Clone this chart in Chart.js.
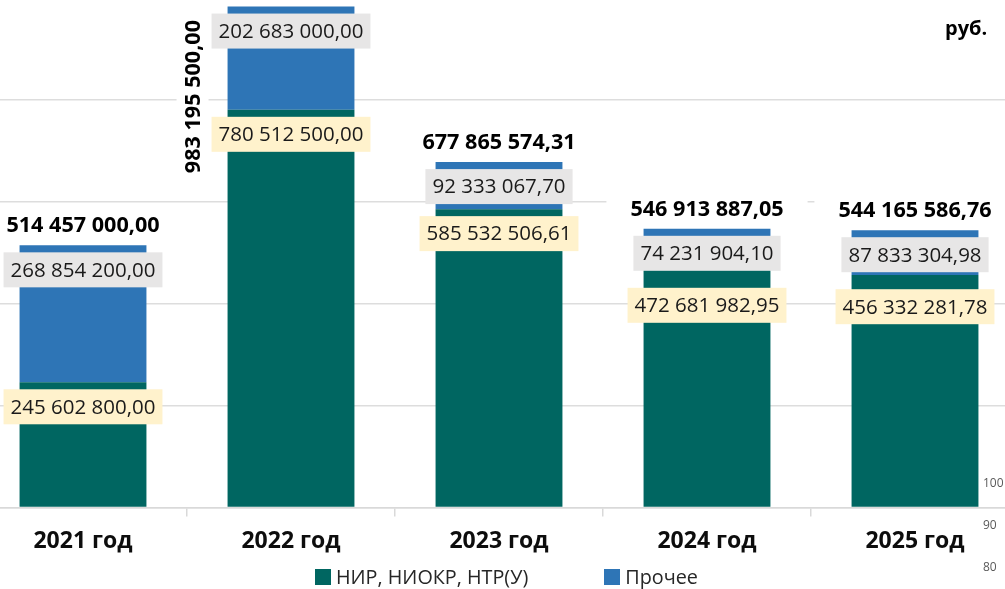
<!DOCTYPE html>
<html lang="ru">
<head>
<meta charset="utf-8">
<script src="https://cdn.jsdelivr.net/npm/chart.js@4.4.1/dist/chart.umd.min.js"></script>
<style>
  html, body { margin: 0; padding: 0; background: #fff; }
  body { width: 1005px; height: 589px; position: relative; overflow: hidden; font-family: "Open Sans", sans-serif; }
  #wrap { position: absolute; left: -21px; top: -2px; width: 1040px; height: 568px; }
  #unit { position: absolute; left: 945px; top: 14px; font: bold 20px "Open Sans"; color: #000; }
  .side { position: absolute; left: 983px; font: 12px "Open Sans"; color: #595959; }
  #legend { position: absolute; left: 315px; top: 565px; display: flex; font: 19.8px "Open Sans"; color: #262626; line-height: 24px; }
  #legend .item { display: flex; align-items: center; }
  #legend .item + .item { margin-left: 76px; }
  #legend .box { width: 16px; height: 16px; margin-right: 5px; }
</style>
</head>
<body>
<div id="wrap"><canvas id="chart"></canvas></div>
<div id="unit">руб.</div>
<div class="side" style="top:474px">100</div>
<div class="side" style="top:516px">90</div>
<div class="side" style="top:558px">80</div>
<div id="legend"></div>
<script>
(() => {
  'use strict';

  // Данные
  const years = ['2021 год', '2022 год', '2023 год', '2024 год', '2025 год'];
  const seriesNames = ['НИР, НИОКР, НТР(У)', 'Прочее'];
  const nirValues = [245602800.00, 780512500.00, 585532506.61, 472681982.95, 456332281.78];
  const otherValues = [268854200.00, 202683000.00, 92333067.70, 74231904.10, 87833304.98];
  const yMax = 1000000000;
  const yStep = 200000000;

  const totals = nirValues.map((v, i) => Math.round((v + otherValues[i]) * 100) / 100);

  // Формат "514 457 000,00"
  function fmt(v) {
    const parts = v.toFixed(2).split('.');
    return parts[0].replace(/\B(?=(\d{3})+(?!\d))/g, ' ') + ',' + parts[1];
  }

  function boxLabel(ctx, text, x, top, bg) {
    ctx.font = '20.5px "Open Sans"';
    const w = ctx.measureText(text).width;
    const h = 35;
    ctx.fillStyle = bg;
    ctx.fillRect(x - w / 2 - 7, top, w + 14, h);
    ctx.fillStyle = '#1a1a1a';
    ctx.textAlign = 'center';
    ctx.textBaseline = 'middle';
    ctx.fillText(text, x, top + h / 2 + 1);
    return { top: top, bottom: top + h };
  }

  // Подписи значений на столбцах
  const barLabels = {
    id: 'barLabels',
    afterDatasetsDraw(chart) {
      const ctx = chart.ctx;
      const nirMeta = chart.getDatasetMeta(0);
      const otherMeta = chart.getDatasetMeta(1);
      ctx.save();
      for (let i = 0; i < years.length; i++) {
        const nirBar = nirMeta.data[i];
        const otherBar = otherMeta.data[i];

        const gray = boxLabel(ctx, fmt(otherValues[i]), otherBar.x, otherBar.y + 7, '#E7E6E6');
        let beigeTop = nirBar.y + 7;
        if (nirBar.y - gray.bottom < 5) beigeTop = gray.bottom + 17;
        boxLabel(ctx, fmt(nirValues[i]), nirBar.x, beigeTop, '#FFF2CC');

        // Итог
        const text = fmt(totals[i]);
        ctx.font = 'bold 21.6px "Open Sans"';
        const w = ctx.measureText(text).width;
        ctx.save();
        if (otherBar.y - 34 > chart.chartArea.top) {
          ctx.translate(otherBar.x, otherBar.y - 20);
          ctx.fillStyle = '#fff';
          ctx.fillRect(-w / 2 - 24, -12, w + 48, 24);
        } else {
          ctx.translate(otherBar.x - otherBar.width / 2 - 35, otherBar.y + 90);
          ctx.rotate(-Math.PI / 2);
          ctx.fillStyle = '#fff';
          ctx.fillRect(-w / 2 - 6, -16, w + 12, 32);
        }
        ctx.fillStyle = '#000';
        ctx.textAlign = 'center';
        ctx.textBaseline = 'middle';
        ctx.fillText(text, 0, 1);
        ctx.restore();
      }
      ctx.restore();
    }
  };

  const chart = new Chart(document.getElementById('chart'), {
    type: 'bar',
    data: {
      labels: years,
      datasets: [
        { label: seriesNames[0], data: nirValues, backgroundColor: '#006661' },
        { label: seriesNames[1], data: otherValues, backgroundColor: '#2E75B6' }
      ]
    },
    options: {
      responsive: true,
      maintainAspectRatio: false,
      animation: false,
      layout: { padding: 0 },
      datasets: {
        bar: { barPercentage: 0.61, categoryPercentage: 1 }
      },
      plugins: {
        legend: { display: false },
        tooltip: { enabled: false }
      },
      scales: {
        x: {
          stacked: true,
          grid: { display: true, drawOnChartArea: false, drawTicks: true, tickLength: 9, color: '#D9D9D9', lineWidth: 1.5, offset: true },
          border: { display: true, color: '#D9D9D9', width: 1.5 },
          ticks: { color: '#0d0d0d', padding: 11, font: { family: 'Open Sans', size: 23, weight: 'bold' } }
        },
        y: {
          stacked: true,
          min: 0,
          max: yMax,
          ticks: { display: false, stepSize: yStep },
          grid: { color: '#DDDDDD', lineWidth: 1.5, drawTicks: false },
          border: { display: false }
        }
      }
    },
    plugins: [barLabels]
  });

  // Легенда
  const legend = document.getElementById('legend');
  chart.data.datasets.forEach(ds => {
    const item = document.createElement('div');
    item.className = 'item';
    const box = document.createElement('span');
    box.className = 'box';
    box.style.background = ds.backgroundColor;
    const label = document.createElement('span');
    label.textContent = ds.label;
    item.appendChild(box);
    item.appendChild(label);
    legend.appendChild(item);
  });
})();
</script>
</body>
</html>
